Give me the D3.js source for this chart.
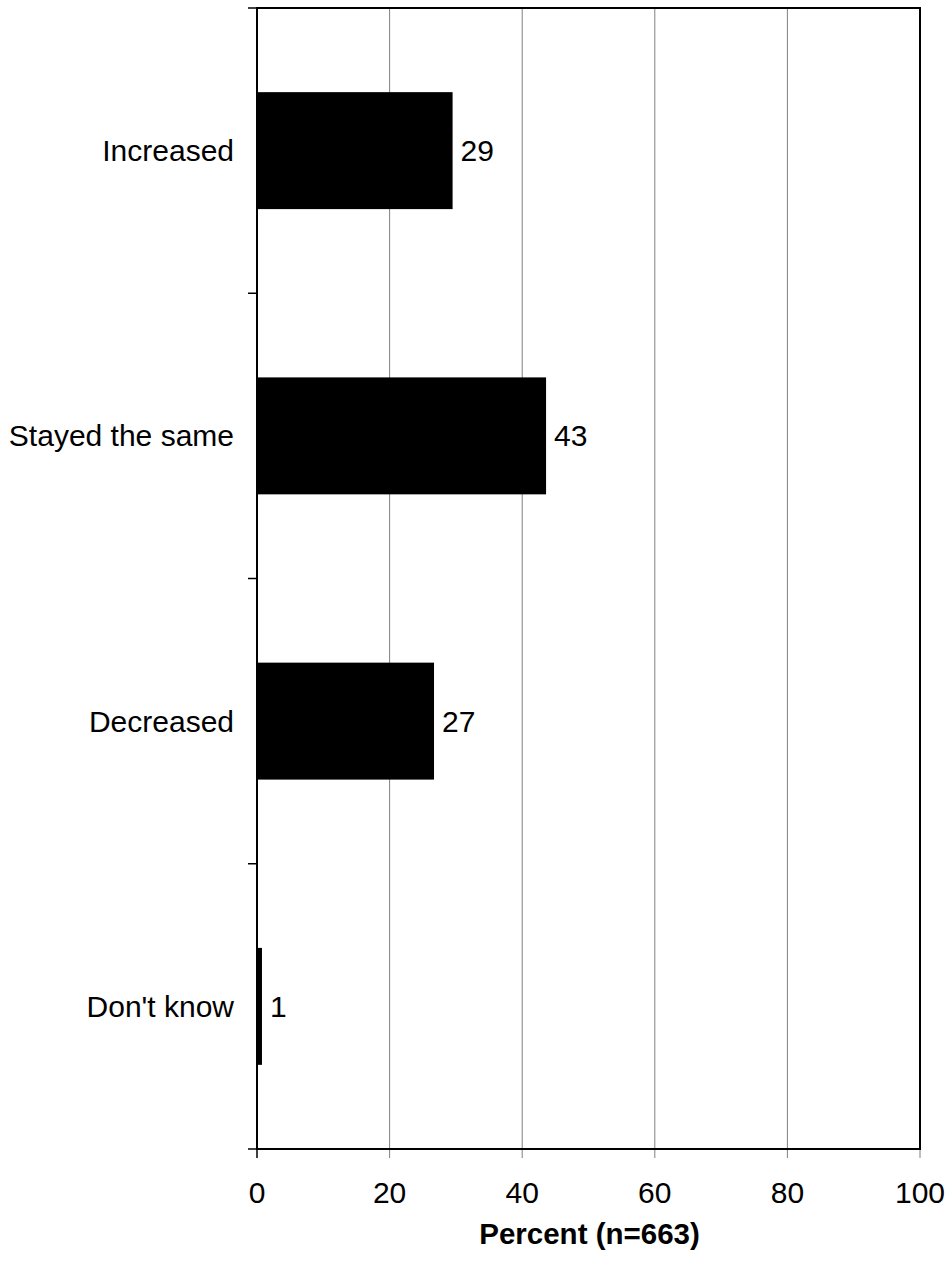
<!DOCTYPE html>
<html><head><meta charset="utf-8">
<script src="https://cdn.jsdelivr.net/npm/d3@7"></script>
<style>body{margin:0;background:#fff}svg{display:block}text{font-family:"Liberation Sans",Arial,sans-serif;fill:#000}</style>
</head><body>
<script>
const categories = ["Increased","Stayed the same","Decreased","Don't know"];
const values = [29.5, 43.6, 26.7, 0.75];
const valueLabels = ["29","43","27","1"];
const xTicks = [0,20,40,60,80,100];
const axisTitle = "Percent (n=663)";

const W=950,H=1261;
const L=257,R=920,T=8,B=1149;
const FS=30;
const svg=d3.select("body").append("svg").attr("width",W).attr("height",H);
const x=d3.scaleLinear().domain([0,100]).range([L,R]);
const y=d3.scaleBand().domain(categories).range([T,B]).paddingInner(0.59).paddingOuter(0.295);

// gridlines
svg.append("g").selectAll("line").data(xTicks.filter(d=>d>0)).join("line")
  .attr("x1",d=>x(d)).attr("x2",d=>x(d)).attr("y1",T).attr("y2",B+9)
  .attr("stroke","#808080").attr("stroke-width",1);

// bars
svg.append("g").selectAll("rect").data(values).join("rect")
  .attr("x",x(0)).attr("y",(d,i)=>y(categories[i]))
  .attr("width",d=>x(d)-x(0)).attr("height",y.bandwidth()).attr("fill","#000");

// value labels
svg.append("g").selectAll("text").data(values).join("text")
  .attr("x",d=>x(d)+8).attr("y",(d,i)=>y(categories[i])+y.bandwidth()/2)
  .attr("dy","0.35em").attr("font-size",FS).text((d,i)=>valueLabels[i]);

// border
svg.append("rect").attr("x",L).attr("y",T).attr("width",R-L).attr("height",B-T)
  .attr("fill","none").attr("stroke","#000").attr("stroke-width",2);

// y axis ticks at band boundaries
const step=(B-T)/categories.length;
const yb=d3.range(categories.length+1).map(i=>T+i*step);
svg.append("g").selectAll("line").data(yb).join("line")
  .attr("x1",L-9).attr("x2",L).attr("y1",d=>d).attr("y2",d=>d)
  .attr("stroke","#000").attr("stroke-width",1.5);
svg.append("line").attr("x1",L).attr("x2",L).attr("y1",B).attr("y2",B+9).attr("stroke","#000").attr("stroke-width",1.5);

// category labels
svg.append("g").selectAll("text").data(categories).join("text")
  .attr("x",L-23).attr("y",d=>y(d)+y.bandwidth()/2).attr("dy","0.35em")
  .attr("text-anchor","end").attr("font-size",FS).text(d=>d);

// x tick labels
svg.append("g").selectAll("text").data(xTicks).join("text")
  .attr("x",d=>x(d)).attr("y",1203).attr("text-anchor","middle").attr("font-size",FS).text(d=>d);

svg.append("text").attr("x",(L+R)/2+1).attr("y",1244).attr("text-anchor","middle")
  .attr("font-size",29.5).attr("font-weight","bold").text(axisTitle);
</script>
</body></html>
